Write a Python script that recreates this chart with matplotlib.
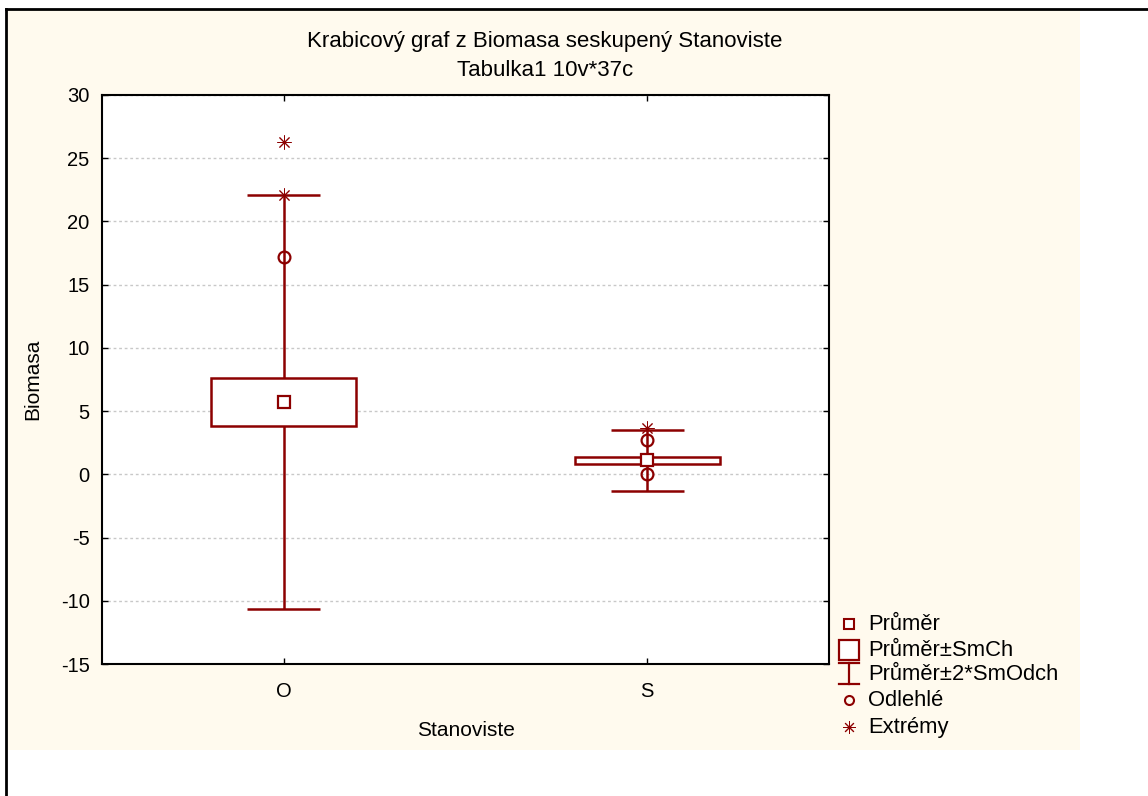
import matplotlib
matplotlib.use("Agg")
import matplotlib.pyplot as plt
from matplotlib.patches import Rectangle
from matplotlib.lines import Line2D

# ---- data ----
groups = ["O", "S"]
means = [5.73, 1.12]
se = [1.90, 0.28]          # box: mean ± SE
sd2 = [16.38, 2.40]        # whiskers: mean ± 2*SD
outliers = [[17.2], [2.72, 0.0]]
extremes = [[26.3, 22.1], [3.67]]
yticks = [-15, -10, -5, 0, 5, 10, 15, 20, 25, 30]
title1 = "Krabicový graf z Biomasa seskupený Stanoviste"
title2 = "Tabulka1 10v*37c"
xlabel = "Stanoviste"
ylabel = "Biomasa"
legend_labels = ["Průměr", "Průměr±SmCh", "Průměr±2*SmOdch", "Odlehlé", "Extrémy"]

plt.rcParams["font.family"] = ["Liberation Sans", "DejaVu Sans"]
plt.rcParams["axes.unicode_minus"] = False
RED = "#8c0000"
CREAM = "#fffaee"
W, H = 1148, 796
FS_TICK = 14.5
FS_LAB = 15
FS_TITLE = 16
FS_LEG = 15.8

fig = plt.figure(figsize=(W / 100, H / 100), dpi=100)
fig.patch.set_facecolor("white")

def fx(px):
    return px / W

def fy(py):
    return 1 - py / H

# cream panel and outer frame
fig.add_artist(Rectangle((fx(7), fy(750)), fx(1080) - fx(7), fy(10) - fy(750),
                         transform=fig.transFigure, facecolor=CREAM, edgecolor="none", zorder=-10))
fig.add_artist(Line2D([fx(6), fx(1148)], [fy(9), fy(9)], transform=fig.transFigure,
                      color="black", lw=2))
fig.add_artist(Line2D([fx(6), fx(6)], [fy(9), fy(796)], transform=fig.transFigure,
                      color="black", lw=2))

ax = fig.add_axes([fx(102), fy(664), fx(829) - fx(102), fy(95) - fy(664)])
ax.set_facecolor("white")
ax.set_xlim(-0.5, 1.5)
ax.set_ylim(-15, 30)
ax.set_yticks(yticks)
ax.set_xticks(range(len(groups)))
ax.set_xticklabels(groups)
ax.tick_params(direction="in", length=4, width=1, labelsize=FS_TICK, top=True, right=True)
ax.tick_params(axis="y", pad=9)
ax.tick_params(axis="x", pad=13)
for s in ax.spines.values():
    s.set_linewidth(1.5)
ax.yaxis.grid(True, linestyle=(0, (2, 2)), color="#c8c8c8", linewidth=1)
ax.set_axisbelow(True)

bw = 0.40
cw = 0.20
for i, g in enumerate(groups):
    m = means[i]
    ax.vlines(i, m - sd2[i], m + sd2[i], color=RED, lw=1.8, zorder=2)
    ax.hlines([m - sd2[i], m + sd2[i]], i - cw / 2, i + cw / 2, color=RED, lw=1.8, zorder=2)
    ax.bar(i, 2 * se[i], bottom=m - se[i], width=bw, facecolor="white",
           edgecolor=RED, linewidth=1.8, zorder=3)
    ax.plot([i], [m], marker="s", ms=8, mfc="white", mec=RED, mew=1.6, zorder=5)
    ax.plot([i] * len(outliers[i]), outliers[i], ls="none", marker="o", ms=8.5,
            mfc="none", mec=RED, mew=1.6, zorder=5)
    ax.plot([i] * len(extremes[i]), extremes[i], ls="none", marker=(8, 2, 0), ms=10,
            mec=RED, mew=0.7, zorder=5)

ax.set_xlabel(xlabel, fontsize=FS_LAB)
ax.set_ylabel(ylabel, fontsize=FS_LAB)
ax.xaxis.set_label_coords(0.5, -(730 - 664) / 569)
ax.xaxis.label.set_va("center")
ax.yaxis.set_label_coords(-(102 - 33) / 727, 0.5)
ax.yaxis.label.set_va("center")

fig.text(fx(545), fy(41), title1, ha="center", va="center", fontsize=FS_TITLE)
fig.text(fx(545), fy(70), title2, ha="center", va="center", fontsize=FS_TITLE)

# legend drawn manually
rows = [624, 650, 675, 700, 727]
mx = fx(849)
tx = fx(868)
fig.add_artist(Line2D([mx], [fy(rows[0])], transform=fig.transFigure, marker="s", ms=7,
                      mfc="white", mec=RED, mew=1.5, ls="none"))
fig.add_artist(Line2D([mx], [fy(rows[1])], transform=fig.transFigure, marker="s", ms=14,
                      mfc="white", mec=RED, mew=1.6, ls="none"))
fig.add_artist(Line2D([mx, mx], [fy(663), fy(684)], transform=fig.transFigure,
                      color=RED, lw=1.6))
for yy in (663, 684):
    fig.add_artist(Line2D([fx(839), fx(859)], [fy(yy), fy(yy)], transform=fig.transFigure,
                          color=RED, lw=1.6))
fig.add_artist(Line2D([mx], [fy(rows[3])], transform=fig.transFigure, marker="o", ms=6.5,
                      mfc="none", mec=RED, mew=1.5, ls="none"))
fig.add_artist(Line2D([mx], [fy(rows[4])], transform=fig.transFigure, marker=(8, 2, 0), ms=9,
                      mec=RED, mew=0.7, ls="none"))
for lab, r in zip(legend_labels, rows):
    fig.text(tx, fy(r), lab, ha="left", va="center", fontsize=FS_LEG)

fig.savefig("out.png", dpi=100, facecolor="white")
